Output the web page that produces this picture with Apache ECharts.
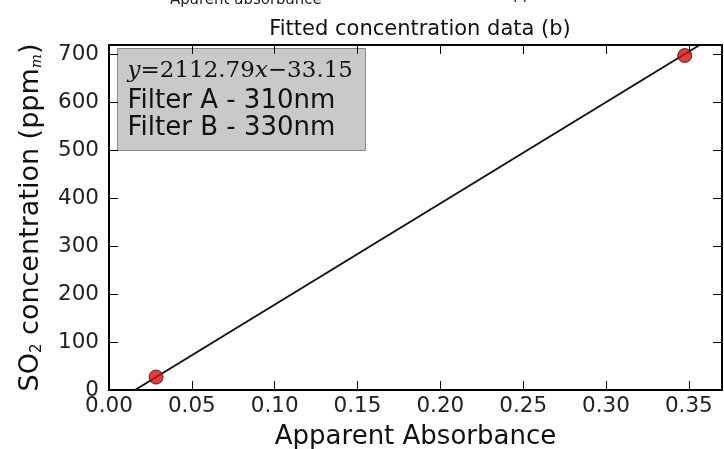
<!DOCTYPE html>
<html>
<head>
<meta charset="utf-8">
<script src="https://cdn.jsdelivr.net/npm/echarts@6/dist/echarts.min.js"></script>
<style>
	html, body { margin: 0; padding: 0; background: #fff; }
	#chart { width: 724px; height: 449px; }
</style>
</head>
<body>
<div id="chart"></div>
<script>
// 测量点
const absorbance = [0.0284, 0.3475];
const concentration = [27, 698];
// 拟合直线 y = a x + b
const fitSlope = 2112.79;
const fitIntercept = -33.15;
// 刻度
const xTicks = ['0.00', '0.05', '0.10', '0.15', '0.20', '0.25', '0.30', '0.35'];
const yTicks = ['0', '100', '200', '300', '400', '500', '600', '700'];

(function () {
	let myChart = echarts.init(document.getElementById('chart'))
	const xMax = 0.37, yMax = 720
	// 直线两端: y=0 和 y=yMax
	const x0 = -fitIntercept / fitSlope
	const x1 = (yMax - fitIntercept) / fitSlope
	const fitLine = [x0, x1].map(x => [x, fitSlope * x + fitIntercept])
	const points = absorbance.map((x, i) => [x, concentration[i]])

	const font = 'DejaVu Sans'
	const baseAxis = {
		type: 'value',
		axisLine: { show: true, onZero: false, lineStyle: { color: '#000', width: 2 } },
		axisTick: { show: true, inside: true, length: 9, lineStyle: { color: '#000', width: 1 } },
		splitLine: { show: false }
	}
	const option = {
		animation: false,
		title: {
			text: 'Fitted concentration data (b)',
			left: 415, top: 14, textAlign: 'center',
			textStyle: { fontFamily: font, fontSize: 21, fontWeight: 'normal', color: '#111' }
		},
		// v6: 关闭 outerBounds, 否则网格会被压缩
		grid: { left: 109, right: 2, top: 45, bottom: 59, outerBoundsMode: 'none' },
		xAxis: [
			Object.assign({}, baseAxis, {
				min: 0, max: xMax, interval: 0.05,
				name: 'Apparent Absorbance',
				nameLocation: 'middle', nameGap: 34,
				nameTextStyle: { fontFamily: font, fontSize: 26, color: '#111' },
				axisLabel: {
					showMaxLabel: false, margin: 5,
					fontFamily: font, fontSize: 21.5, color: '#222',
					formatter: v => xTicks[Math.round(v / 0.05)] || ''
				}
			}),
			Object.assign({}, baseAxis, {
				position: 'top', min: 0, max: xMax, interval: 0.05,
				axisLabel: { show: false }
			})
		],
		yAxis: [
			Object.assign({}, baseAxis, {
				min: 0, max: yMax, interval: 100,
				name: 'SO{s|2} concentration (ppm{si|m})',
				nameLocation: 'middle', nameGap: 64, nameRotate: 90,
				nameTextStyle: {
					fontFamily: font, fontSize: 27, color: '#111',
					rich: {
						s: { fontFamily: font, fontSize: 15, color: '#111', verticalAlign: 'bottom', padding: [14, 0, 0, 0] },
						si: { fontFamily: 'DejaVu Serif', fontStyle: 'italic', fontSize: 15, color: '#111', verticalAlign: 'bottom', padding: [14, 0, 0, 0] }
					}
				},
				axisLabel: {
					showMaxLabel: false, margin: 10,
					fontFamily: font, fontSize: 21.5, color: '#222',
					formatter: v => yTicks[Math.round(v / 100)] || ''
				}
			}),
			Object.assign({}, baseAxis, {
				position: 'right', min: 0, max: yMax, interval: 100,
				axisLabel: { show: false }
			})
		],
		graphic: [
			// 上方子图被截断的标签
			{
				type: 'text', left: 170, top: -7,
				style: { text: 'Aparent absorbance', fontFamily: font, fontSize: 15, fill: '#222' }
			},
			{
				type: 'text', left: 503, top: -12,
				style: { text: 'Apparent absorbance', fontFamily: font, fontSize: 15, fill: '#222' }
			},
			// 文本框
			{
				type: 'group', left: 117, top: 48, z: 100,
				children: [
					{
						type: 'rect', shape: { x: 0, y: 0, width: 248, height: 102 },
						style: { fill: '#c9c9c9', stroke: '#8a8a8a', lineWidth: 1 }
					},
					{
						type: 'text', left: 10, top: 11,
						style: {
							rich: {
								i: { fontFamily: 'DejaVu Serif', fontStyle: 'italic', fontSize: 23, fill: '#111' },
								n: { fontFamily: 'DejaVu Serif', fontSize: 23, fill: '#111' }
							},
							text: '{i|y}{n|=2112.79}{i|x}{n|\u221233.15}'
						}
					},
					{
						type: 'text', left: 10, top: 40,
						style: { text: 'Filter A - 310nm', fontFamily: font, fontSize: 26, fill: '#111' }
					},
					{
						type: 'text', left: 10, top: 67,
						style: { text: 'Filter B - 330nm', fontFamily: font, fontSize: 26, fill: '#111' }
					}
				]
			}
		],
		series: [
			{
				name: 'fit',
				type: 'line',
				data: fitLine,
				showSymbol: false,
				clip: true,
				lineStyle: { color: '#111', width: 2 },
				z: 2
			},
			{
				name: 'data',
				type: 'scatter',
				data: points,
				symbol: 'circle',
				symbolSize: 14,
				itemStyle: { color: '#d40f0f', borderColor: '#400', borderWidth: 1 },
				z: 3
			}
		]
	}
	myChart.setOption(option)
	window.addEventListener('resize', function () {
		myChart.resize();
	})
})();
</script>
</body>
</html>
